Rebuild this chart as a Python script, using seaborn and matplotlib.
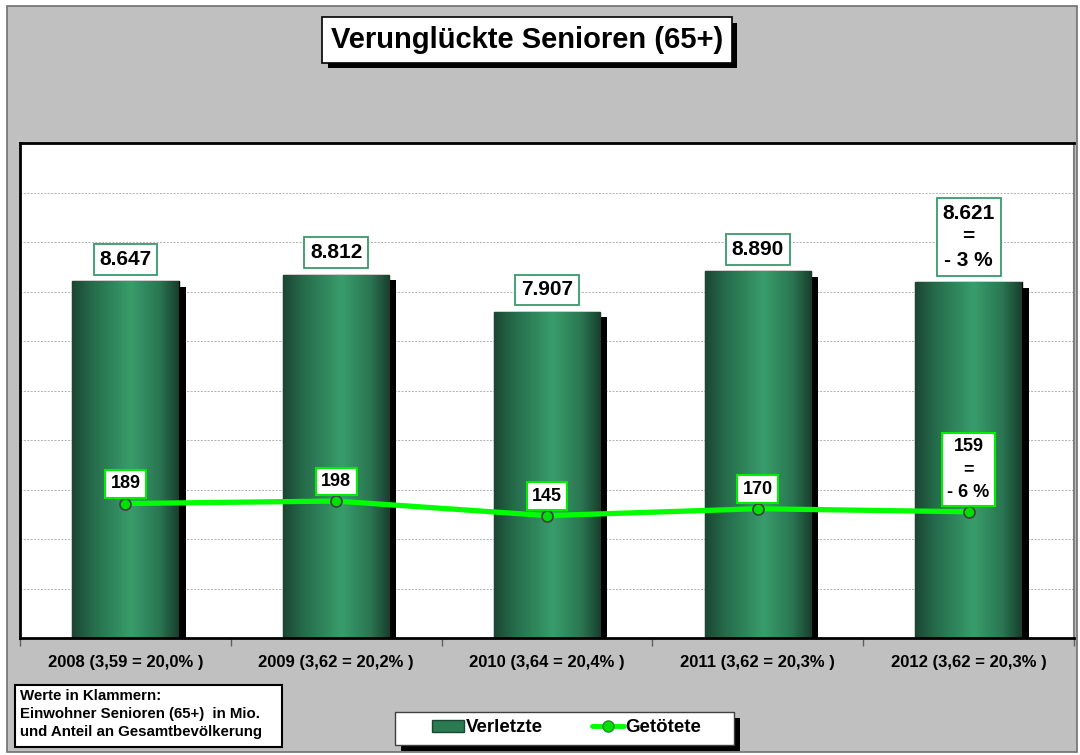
import numpy as np
import matplotlib
matplotlib.use("Agg")
import matplotlib.pyplot as plt
import matplotlib.patheffects as pe
from matplotlib.colors import LinearSegmentedColormap
from matplotlib.patches import Rectangle, Patch
from matplotlib.lines import Line2D
import seaborn as sns

# data
years = ['2008 (3,59 = 20,0% )', '2009 (3,62 = 20,2% )', '2010 (3,64 = 20,4% )',
         '2011 (3,62 = 20,3% )', '2012 (3,62 = 20,3% )']
verletzte = [8647, 8812, 7907, 8890, 8621]
getoetete = [189, 198, 145, 170, 159]
verletzte_note = ['', '', '', '', '=\n- 3 %']
getoetete_note = ['', '', '', '', '=\n- 6 %']


def de_fmt(v):
    return f"{v:,}".replace(",", ".")


sns.set_style("white")
plt.rcParams['font.family'] = ['Liberation Sans', 'DejaVu Sans']
plt.rcParams['font.weight'] = 'bold'
plt.rcParams['text.color'] = 'black'
plt.rcParams['xtick.color'] = 'black'
plt.rcParams['xtick.labelcolor'] = 'black'

fig = plt.figure(figsize=(10.8, 7.55), dpi=100)
fig.patch.set_facecolor('white')
W, H = 1080, 755

# grey outer frame
fig.patches.append(Rectangle((7 / W, 3 / H), 1070 / W, 746 / H, transform=fig.transFigure,
                             facecolor='#c0c0c0', edgecolor='#707070', lw=1.2, zorder=-5))

ax = fig.add_axes([20 / W, 1 - 638 / H, 1054 / W, 495 / H])
ax.set_zorder(1)
ax.set_facecolor('white')

bar_green = '#2e8a5c'
sns.barplot(x=years, y=verletzte, ax=ax, color=bar_green, width=0.505,
            saturation=1, edgecolor='black', linewidth=1.0, zorder=2)

grad = LinearSegmentedColormap.from_list('g', [
    (0.0, '#1b4633'), (0.18, '#256a4a'), (0.55, '#399d6b'),
    (0.82, '#2a7652'), (1.0, '#183e2d')])
gimg = np.linspace(0, 1, 256).reshape(1, -1)

for bar in ax.patches:
    bar.set_path_effects([pe.SimplePatchShadow(offset=(5, -4), shadow_rgbFace='black', alpha=1.0),
                          pe.Normal()])
    x0, y0 = bar.get_x(), bar.get_y()
    w, h = bar.get_width(), bar.get_height()
    im = ax.imshow(gimg, cmap=grad, extent=[x0, x0 + w, y0, y0 + h],
                   aspect='auto', zorder=2.5, interpolation='bicubic')
    im.set_clip_path(bar)

ax.set_xlim(-0.5, 4.5)
ax.set_ylim(0, 12000)
ax.set_yticks(np.arange(0, 12001, 1200))
ax.set_yticklabels([])
ax.tick_params(axis='y', length=0)
ax.yaxis.grid(True, color='#b0b0b0', linestyle=(0, (2, 1.5)), lw=0.7)
ax.set_axisbelow(True)

ax.set_xticks(range(len(years)))
ax.set_xticklabels(years, fontsize=12, fontweight='bold')
ax.set_xticks(np.arange(-0.5, 5, 1), minor=True)
ax.tick_params(axis='x', which='both', bottom=True)
ax.tick_params(axis='x', which='major', length=0, pad=12)
ax.tick_params(axis='x', which='minor', length=6, width=1, color='#606060', direction='out')

for side in ['left', 'top', 'bottom']:
    ax.spines[side].set_color('black')
    ax.spines[side].set_linewidth(2)
ax.spines['right'].set_color('#808080')
ax.spines['right'].set_linewidth(1.5)

for i, v in enumerate(verletzte):
    txt = de_fmt(v) + ('\n' + verletzte_note[i] if verletzte_note[i] else '')
    ax.annotate(txt, (i, v), xytext=(0, 9), textcoords='offset points',
                ha='center', va='bottom', fontsize=15, fontweight='bold',
                linespacing=1.3, zorder=5,
                bbox=dict(boxstyle='square,pad=0.28', fc='white', ec='#3a9a6a', lw=1.3))

# second axis for the line
ax2 = ax.twinx()
sns.lineplot(x=np.arange(len(getoetete)), y=getoetete, ax=ax2, color='#00ff00',
             lw=3.8, marker='o', markersize=8, markerfacecolor='#00e000',
             markeredgecolor='#404040', markeredgewidth=1.2, zorder=4)
ax2.set_ylim(-300, 1500)
ax2.set_yticks([])
for s in ax2.spines.values():
    s.set_visible(False)

for i, v in enumerate(getoetete):
    txt = str(v) + ('\n' + getoetete_note[i] if getoetete_note[i] else '')
    ax2.annotate(txt, (i, v), xytext=(0, 8), textcoords='offset points',
                 ha='center', va='bottom', fontsize=13, fontweight='bold',
                 linespacing=1.45, zorder=6,
                 bbox=dict(boxstyle='square,pad=0.3', fc='white', ec='#00ee00', lw=1.5))

# title
t = fig.text(527 / W, 1 - 40 / H, 'Verunglückte Senioren (65+)', ha='center', va='center',
             fontsize=21, fontweight='bold',
             bbox=dict(boxstyle='square,pad=0.3', fc='white', ec='black', lw=1.2))
t.get_bbox_patch().set_path_effects([
    pe.SimplePatchShadow(offset=(4, -4), shadow_rgbFace='black', alpha=1.0), pe.Normal()])

# note box bottom-left
fig.patches.append(Rectangle((15 / W, 1 - 747 / H), 267 / W, 62 / H, transform=fig.transFigure,
                             facecolor='white', edgecolor='black', lw=1.5, zorder=3))
fig.text(20 / W, 1 - 689 / H,
         'Werte in Klammern:\nEinwohner Senioren (65+)  in Mio.\nund Anteil an Gesamtbevölkerung',
         ha='left', va='top', fontsize=10.8, fontweight='bold', linespacing=1.36, zorder=4)

# legend box with shadow
lb = Rectangle((395 / W, 1 - 745 / H), 339 / W, 33 / H, transform=fig.transFigure,
               facecolor='white', edgecolor='#404040', lw=1, zorder=3)
lb.set_path_effects([pe.SimplePatchShadow(offset=(4, -4), shadow_rgbFace='black', alpha=1.0),
                     pe.Normal()])
fig.patches.append(lb)

handles = [Patch(facecolor='#2a7a52', edgecolor='#1b4633', label='Verletzte'),
           Line2D([0], [0], color='#00ff00', lw=3.5, marker='o', markersize=8,
                  markerfacecolor='#00e000', markeredgecolor='#2a8a2a', label='Getötete')]
leg = fig.legend(handles=handles, loc='center', bbox_to_anchor=(567 / W, 1 - 728 / H),
                 ncol=2, frameon=False, handlelength=1.7, handleheight=0.6,
                 handletextpad=0.1, columnspacing=2.6, prop={'weight': 'bold', 'size': 13.5})
leg.set_zorder(5)

fig.savefig('out.png', dpi=100, facecolor=fig.get_facecolor())
